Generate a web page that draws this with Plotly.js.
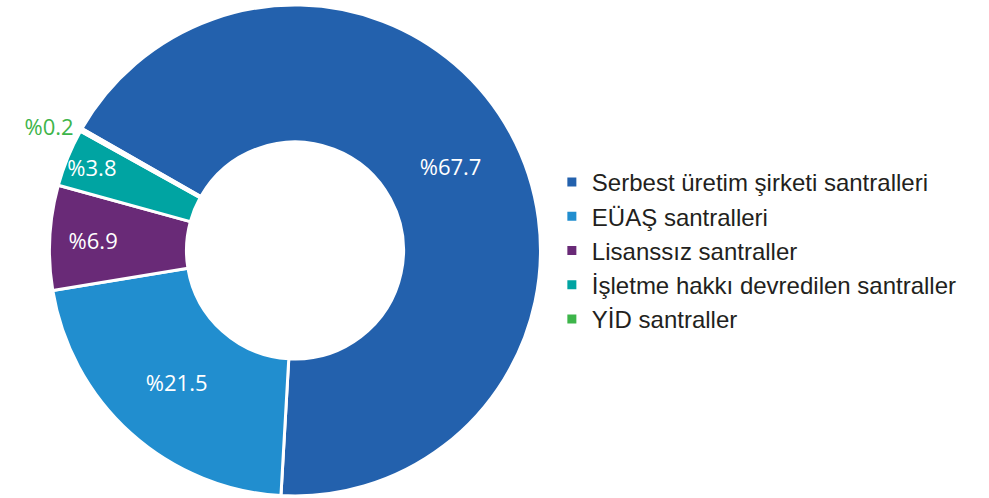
<!DOCTYPE html>
<html>
<head>
<meta charset="utf-8">
<script src="https://cdn.plot.ly/plotly-3.0.1.min.js"></script>
<style>html,body{margin:0;padding:0;background:#fff;}#chart{width:989px;height:498px;}</style>
</head>
<body>
<div id="chart"></div>
<script>
const categories = [
  "Serbest üretim şirketi santralleri",
  "EÜAŞ santralleri",
  "Lisanssız santraller",
  "İşletme hakkı devredilen santraller",
  "YİD santraller"
];
const shares = [67.7, 21.5, 6.9, 3.8, 0.2];
const colors = ["#2361ad", "#218ecf", "#692a77", "#00a4a2", "#3db54a"];
const labelPositions = ["inside", "inside", "inside", "inside", "outside"];

const trace = {
  type: "pie",
  labels: categories,
  values: shares,
  sort: false,
  direction: "clockwise",
  rotation: -60.2,
  hole: 0.442,
  marker: { colors: colors, line: { color: "#ffffff", width: 3 } },
  texttemplate: "%%{value:.1f}",
  textposition: labelPositions,
  insidetextorientation: "horizontal",
  insidetextfont: { family: "Open Sans, sans-serif", size: 22, color: "#ffffff" },
  outsidetextfont: { family: "Open Sans, sans-serif", size: 22, color: colors },
  hoverinfo: "label+value",
  domain: { x: [0.05, 0.5465], y: [0, 1] }
};

const layout = {
  width: 989,
  height: 498,
  margin: { l: 0, r: 0, t: 5, b: 2 },
  paper_bgcolor: "#ffffff",
  showlegend: true,
  uniformtext: { minsize: 22, mode: "show" },
  legend: {
    x: 0.558, xanchor: "left",
    y: 0.5, yanchor: "middle",
    font: { family: "Liberation Sans, Arial, sans-serif", size: 24, color: "#231f20" },
    itemwidth: 30,
    tracegroupgap: 0
  }
};

Plotly.newPlot("chart", [trace], layout, { displayModeBar: false, staticPlot: true });
</script>
</body>
</html>
